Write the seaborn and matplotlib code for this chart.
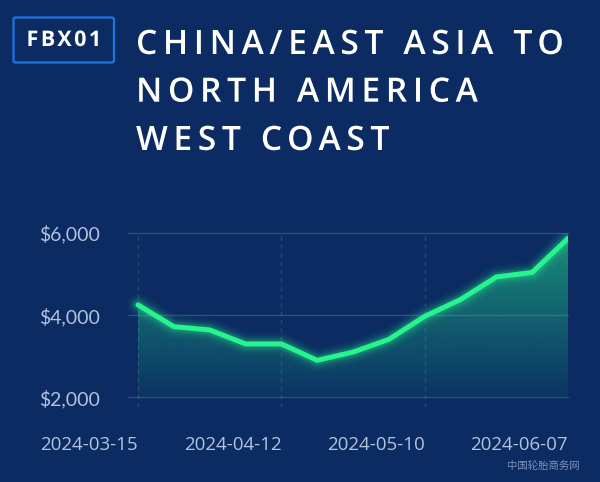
import numpy as np
import pandas as pd
import matplotlib
matplotlib.use("Agg")
import matplotlib.pyplot as plt
import matplotlib.dates as mdates
from matplotlib.patches import FancyBboxPatch
from matplotlib.patheffects import AbstractPathEffect
from matplotlib.path import Path
from matplotlib.textpath import text_to_path
import seaborn as sns

# ---- data ----
dates = pd.date_range("2024-03-15", periods=13, freq="7D")
rates = [4250, 3720, 3640, 3300, 3300, 2900, 3100, 3410, 3970, 4380, 4930, 5040, 5870]
tick_dates = ["2024-03-15", "2024-04-12", "2024-05-10", "2024-06-07"]
y_ticks = [2000, 4000, 6000]
y_labels = ["$2,000", "$4,000", "$6,000"]
badge = "FBX01"
title_lines = ["CHINA/EAST ASIA TO", "NORTH AMERICA", "WEST COAST"]
watermark = "中国轮胎商务网"

df = pd.DataFrame({"date": dates, "rate": rates})

BG = "#0b2b62"
GREEN = "#27f38f"
GRID = (1, 1, 1, 0.16)
LABEL = "#b3c2de"


class LetterSpacing(AbstractPathEffect):
    """Render a text's glyph outlines with extra tracking between letters."""

    def __init__(self, text_artist, spacing_em):
        super().__init__()
        self.t = text_artist
        self.sp = spacing_em * text_to_path.FONT_SCALE

    def draw_path(self, renderer, gc, tpath, affine, rgbFace=None):
        codes = tpath.codes
        verts = np.array(tpath.vertices, dtype=float)
        if codes is None or len(verts) == 0:
            renderer.draw_path(gc, tpath, affine, rgbFace)
            return
        try:
            font = text_to_path._get_font(self.t.get_fontproperties())
            font.set_size(text_to_path.FONT_SCALE, text_to_path.DPI)
            info = text_to_path.get_glyphs_with_font(font, self.t.get_text())[0]
            xpos = np.array([g[1] for g in info], dtype=float)
        except Exception:
            renderer.draw_path(gc, tpath, affine, rgbFace)
            return
        starts = list(np.where(codes == Path.MOVETO)[0]) + [len(codes)]
        for s, e in zip(starts[:-1], starts[1:]):
            seg_codes = codes[s:e]
            mask = seg_codes != Path.CLOSEPOLY
            xs = verts[s:e, 0][mask]
            if len(xs) == 0:
                continue
            cx = 0.5 * (xs.min() + xs.max())
            i = max(int(np.searchsorted(xpos, cx, side="right")) - 1, 0)
            verts[s:e, 0] += i * self.sp
        renderer.draw_path(gc, Path(verts, codes), affine, rgbFace)


sns.set_theme(style="dark")
plt.rcParams["font.family"] = ["Open Sans", "DejaVu Sans"]

W, H = 600, 482
fig = plt.figure(figsize=(W / 100, H / 100), dpi=100, facecolor=BG)

# axes box in pixels: left 128, right 568, top 233, bottom 407
ax = fig.add_axes([128 / W, (H - 407) / H, 440 / W, (407 - 233) / H])
ax.set_facecolor(BG)

x0 = mdates.date2num(dates[0]) - 10 / 35.83 * 7
x1 = mdates.date2num(dates[-1])
ylo = 2000 - 9.7 / 41 * 1000
ax.set_xlim(x0, x1)
ax.set_ylim(ylo, 6000)

# gradient fill below line
xs = mdates.date2num(df["date"])
poly = ax.fill_between(xs, df["rate"], 2000, facecolor="none", edgecolor="none")
grad = np.linspace(0, 1, 256).reshape(-1, 1)
rgba = np.zeros((256, 1, 4))
g = matplotlib.colors.to_rgb("#22d48a")
rgba[..., 0], rgba[..., 1], rgba[..., 2] = g
rgba[..., 3] = 0.05 + 0.55 * grad[::-1]
im = ax.imshow(rgba, extent=[x0, x1, 2000, 6000], aspect="auto", origin="upper", zorder=1)
im.set_clip_path(poly.get_paths()[0], transform=ax.transData)

# glow
for lw, a in [(16, 0.05), (12, 0.07), (9, 0.10), (6.5, 0.16)]:
    sns.lineplot(data=df, x="date", y="rate", ax=ax, color=GREEN, linewidth=lw,
                 alpha=a, zorder=3, solid_capstyle="round", solid_joinstyle="round")
sns.lineplot(data=df, x="date", y="rate", ax=ax, color=GREEN, linewidth=3.6,
             zorder=4, solid_capstyle="round", solid_joinstyle="round")

# grid
for yv in y_ticks:
    ax.axhline(yv, color=GRID, lw=1, zorder=0.5, clip_on=False)
for d in tick_dates:
    ax.axvline(mdates.date2num(pd.Timestamp(d)), color=(1, 1, 1, 0.13), lw=1,
               ls=(0, (3, 3)), zorder=0.5)
ax.grid(False)

for s in ax.spines.values():
    s.set_visible(False)

ax.set_xticks([mdates.date2num(pd.Timestamp(d)) for d in tick_dates])
ax.set_xticklabels(tick_dates, ha="right")
ax.set_yticks(y_ticks)
ax.set_yticklabels(y_labels)
ax.tick_params(axis="x", length=0, pad=21, labelsize=13.5, colors=LABEL)
ax.tick_params(axis="y", length=0, pad=20, labelsize=14, colors=LABEL)
for t in ax.get_yticklabels():
    t.set_fontfamily(["Lato", "DejaVu Sans"])
ax.set_xlabel("")
ax.set_ylabel("")
leg = ax.get_legend()
if leg:
    leg.remove()

# badge
box = FancyBboxPatch((13.5 / W, 1 - 62.5 / H), (114 - 13.5) / W, (62.5 - 17.5) / H,
                     boxstyle="round,pad=0,rounding_size=0.004",
                     transform=fig.transFigure, facecolor=BG, edgecolor="#1f74e3",
                     lw=1.6)
fig.patches.append(box)
bt = fig.text(26.5 / W, 1 - 40.5 / H, badge, color="white", fontsize=15.5,
              fontweight="bold", ha="left", va="center")
bt.set_path_effects([LetterSpacing(bt, 0.115)])

# title
baselines = [54, 101.7, 150]
for line, b in zip(title_lines, baselines):
    tt = fig.text(136 / W, 1 - b / H, line, color="white", fontsize=24.2,
                  fontweight="semibold", ha="left", va="baseline")
    tt.set_path_effects([LetterSpacing(tt, 0.167)])

# watermark
fig.text(543 / W, 1 - 466 / H, watermark, color="#8a9cc4", fontsize=7.5,
         ha="center", va="center", family=["Noto Sans CJK SC", "DejaVu Sans"], alpha=0.9)

fig.savefig("out.png", dpi=100, facecolor=BG)
